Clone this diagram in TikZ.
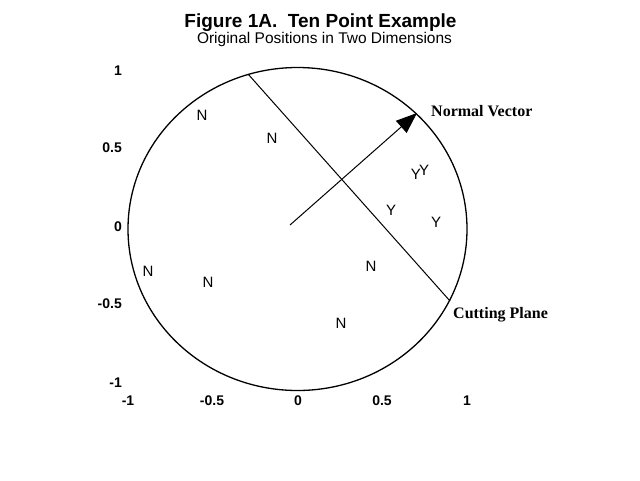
\documentclass[tikz,border=0pt]{standalone}
\usepackage{fontspec}
\setmainfont{Liberation Serif}
\setsansfont{Liberation Sans}
\usetikzlibrary{arrows.meta}
\tikzset{
  pt/.style={inner sep=0pt, font=\sffamily\fontsize{15}{18}\selectfont},
  ytick/.style={inner sep=0pt, anchor=east, font=\sffamily\bfseries\fontsize{14}{16}\selectfont},
  xtick/.style={inner sep=0pt, font=\sffamily\bfseries\fontsize{14}{16}\selectfont},
  lbl/.style={inner sep=0pt, anchor=base west, font=\rmfamily\bfseries\fontsize{16}{18}\selectfont},
  thinline/.style={line width=1pt},
}
\begin{document}
\begin{tikzpicture}[x=1pt,y=-1pt]
\useasboundingbox (0,0) rectangle (640,480);
\fill[white] (0,0) rectangle (640,480);
% title
\node[inner sep=0pt, anchor=base, font=\sffamily\bfseries\fontsize{19}{22}\selectfont] (title) at (320.5,27) {Figure 1A.\ \ Ten Point Example};
\node[inner sep=0pt, anchor=base, font=\sffamily\fontsize{15.5}{18}\selectfont] (subtitle) at (324.5,43.5) {Original Positions in Two Dimensions};
% circle
\coordinate (ctr) at (297.5,229);
\draw[line width=1.3pt] (ctr) ellipse [x radius=169.5, y radius=161.5];
% cutting plane
\coordinate (cp1) at (248,74);
\coordinate (cp2) at (450,301);
\draw[thinline] (cp1) -- (cp2);
% normal vector
\coordinate (o) at (290,225);
\coordinate (nv) at (417,113);
\draw[thinline, -{Triangle[length=21pt,width=16pt]}] (o) -- (nv);
% labels
\node[lbl] (nvl) at (431,116) {Normal Vector};
\node[lbl] (cpl) at (453,318.5) {Cutting Plane};
% points
\node[pt] (n1) at (202,115) {N};
\node[pt] (n2) at (272,138) {N};
\node[pt] (n3) at (148,271) {N};
\node[pt] (n4) at (208,282) {N};
\node[pt] (n5) at (371,266) {N};
\node[pt] (n6) at (341,323) {N};
\node[pt, anchor=base] (yy) at (420,179) {Y\kern-2pt\raisebox{4pt}{Y}};
\node[pt] (y3) at (391,210) {Y};
\node[pt] (y4) at (436,222) {Y};
% y ticks
\node[ytick] (ya) at (122,71) {1};
\node[ytick] (yb) at (122,148) {0.5};
\node[ytick] (yc) at (122,227) {0};
\node[ytick] (yd) at (122,304) {-0.5};
\node[ytick] (ye) at (122,383) {-1};
% x ticks
\node[xtick] (xa) at (128,401) {-1};
\node[xtick] (xb) at (212,401) {-0.5};
\node[xtick] (xc) at (298,401) {0};
\node[xtick] (xd) at (382,401) {0.5};
\node[xtick] (xe) at (467,401) {1};
\end{tikzpicture}
\end{document}
